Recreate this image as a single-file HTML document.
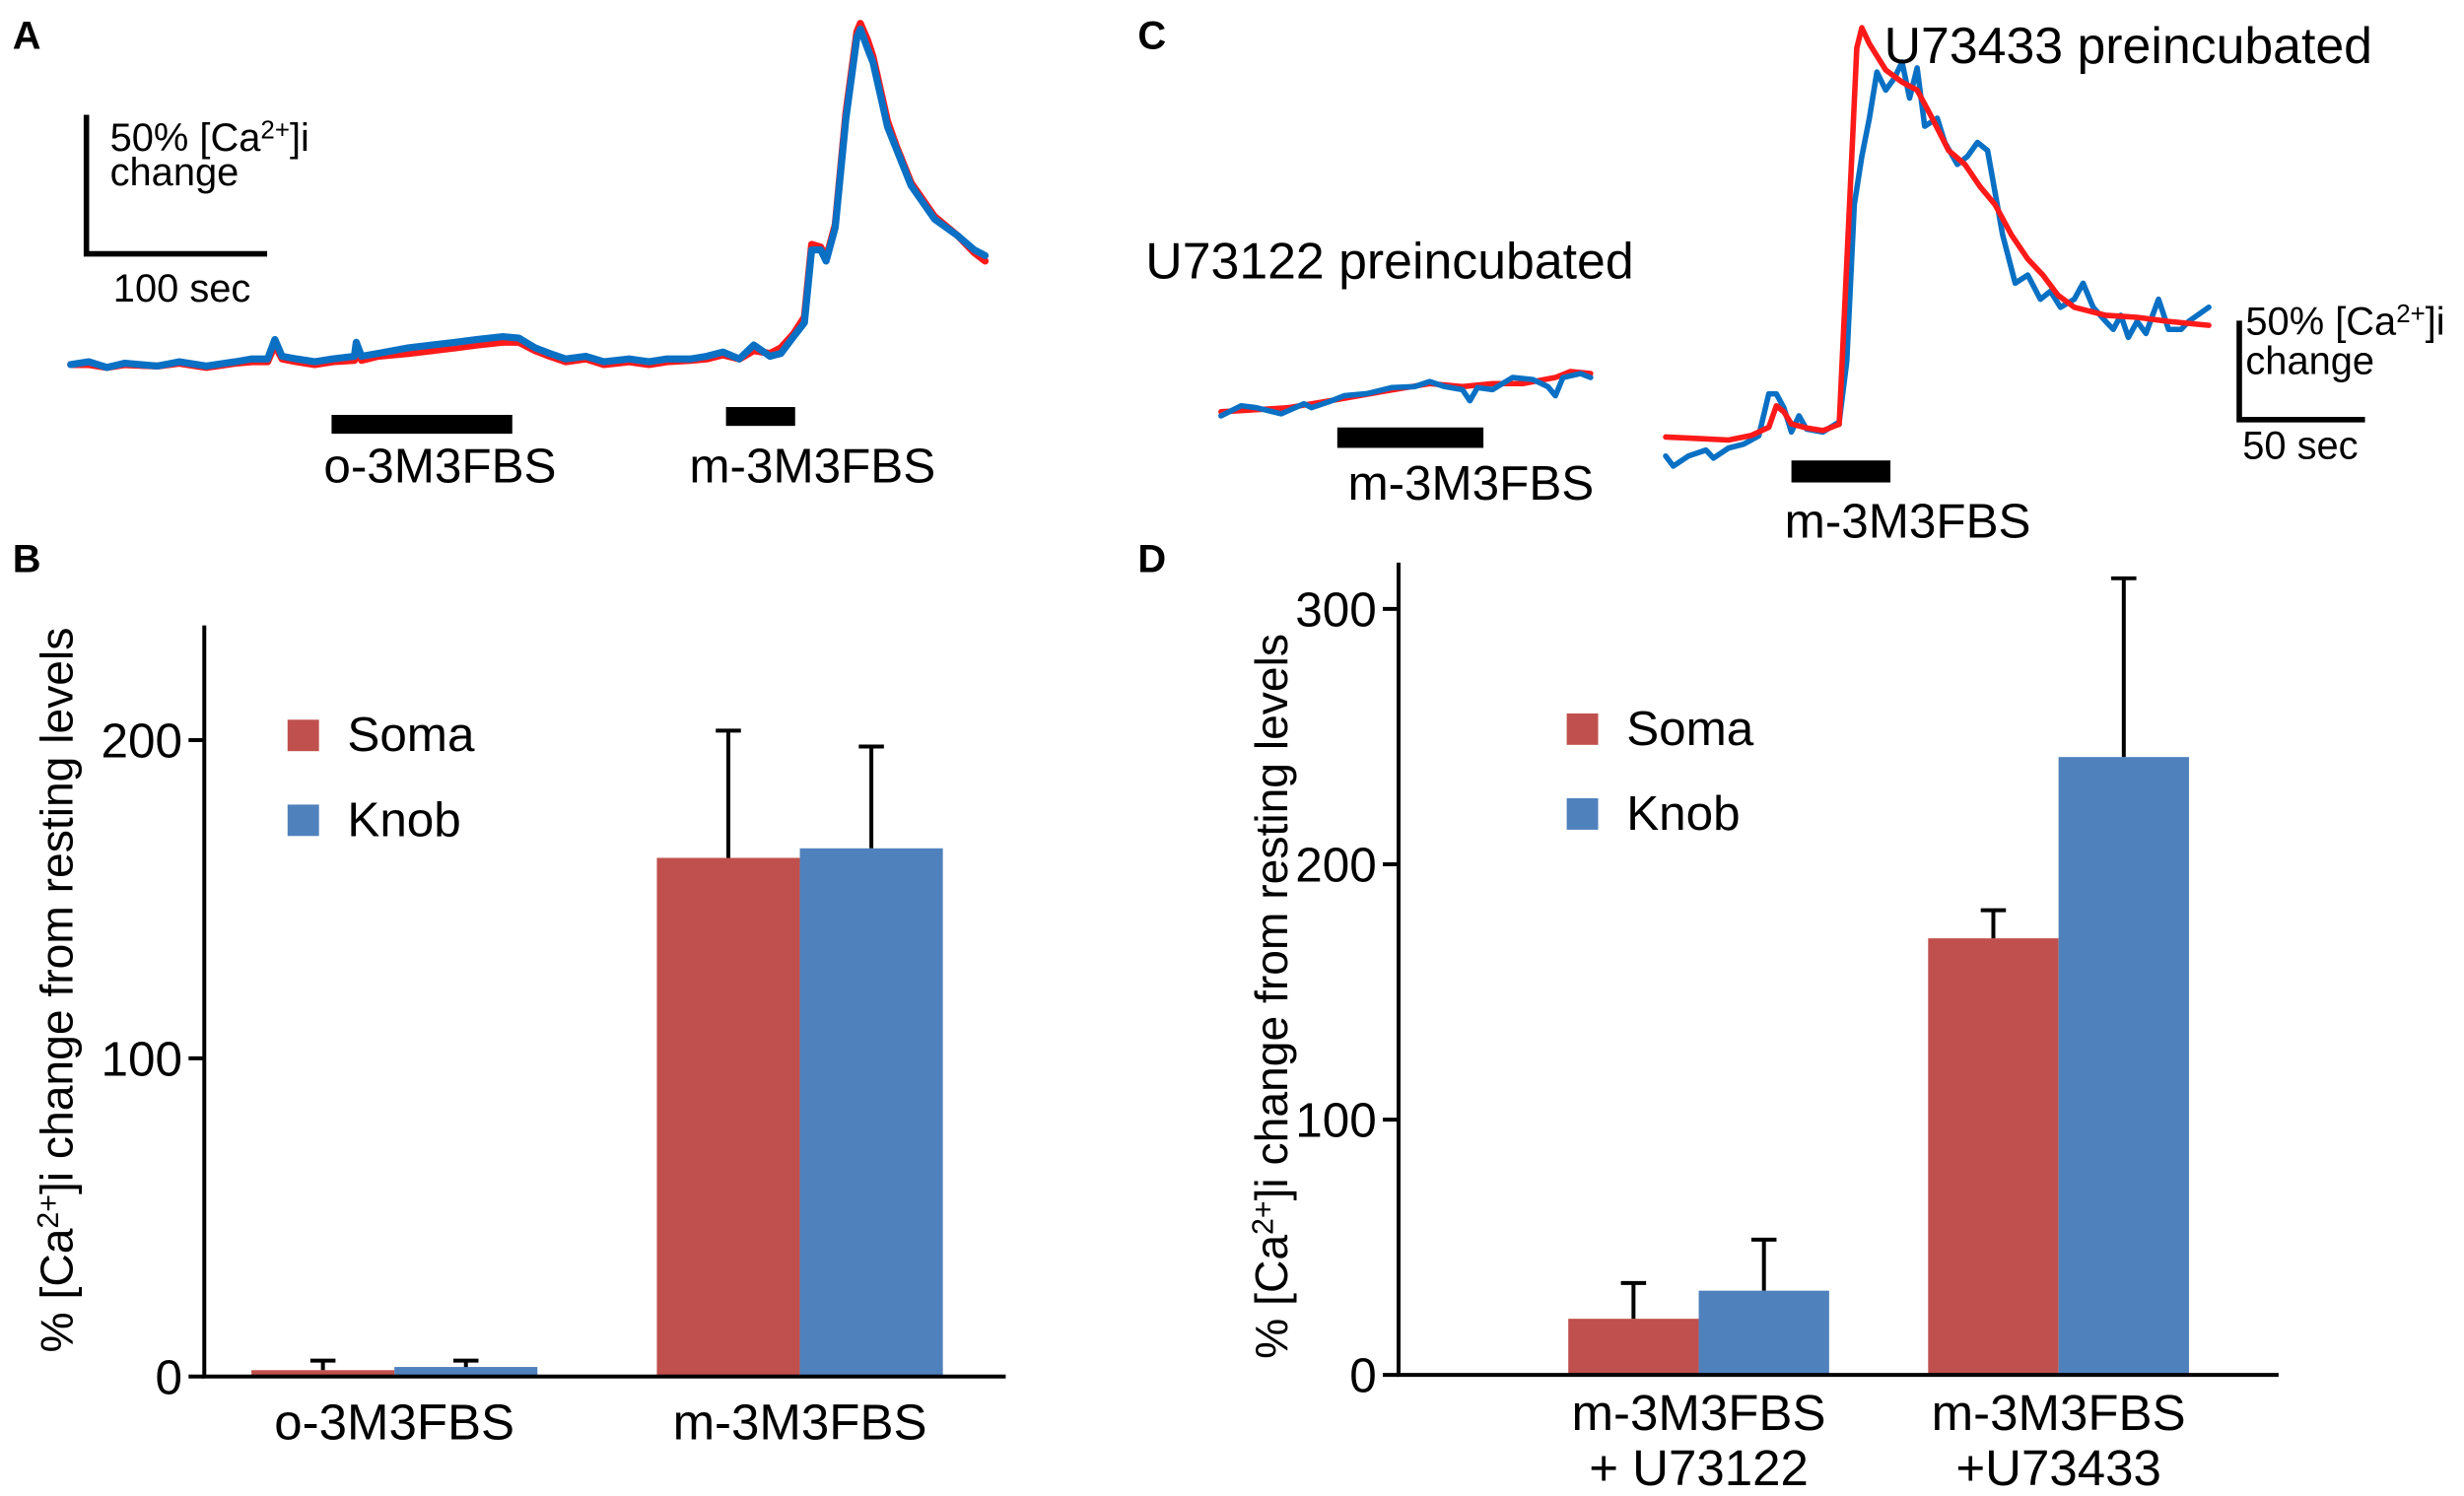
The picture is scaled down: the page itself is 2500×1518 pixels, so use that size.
<!DOCTYPE html>
<html><head><meta charset="utf-8"><style>
html,body{margin:0;padding:0;background:#fff}
svg{display:block}
text{font-family:"Liberation Sans",Arial,sans-serif;fill:#000}
</style></head><body>
<svg id="fig" width="2500" height="1518" viewBox="0 0 1568 952" xmlns="http://www.w3.org/2000/svg">
<rect x="0" y="0" width="1568" height="952" fill="#fff"/>
<g id="g"></g>
</svg>
<script>
// Panel A traces (time s, % change)
const aTime=[0,10,20,30,48,60,75,91,100,109,113,117,125,135,145,157,158,161,170,187,200,213,225,239,248,257,265,274,285,295,309,320,330,343,352,361,370,378,387,393,400,406,410,415,418,423,429,435,437,441,444,452,457,465,478,491,500,506];
const aKnob=[0,1,-1,0.5,-0.5,1,-0.5,1,2,2,9,3,2,1,2,3,8,3,4,6,7,8,9,10,9.5,6,4,2,3,1,2,1,2,2,3,4.5,2,7,3,4,10,15,41,41,37,49,88,117,120,113,108,85,77,64,52,46,41,39];
const aSoma=[0,0,-1,0,-0.5,0.5,-1,0.5,1,1,7,2,1,0,1,1.5,5,1.5,3,4,5,6,7,8,8,5,3,1,2,0,1,0,1,1.5,2,3.5,2,5,4,6,11,17,43,42,38,50,90,119,122,116,110,87,78,65,53,46,40,37];
// Panel C left (U73122)
const cLTimeK=[0,8,14,24,33,36,43,49,58,68,77,83,89,96,99,102,108,116,124,130,133,136,143,147];
const cLKnob=[-2,3,2,-1,4,2,5,8,9,12,12.5,15,12.5,11,5.5,12,11,17,16,12.5,8,17,19,17];
const cLTimeS=[0,14,27,46,64,83,96,108,120,133,139,147];
const cLSoma=[0,1,2,6,10,14,12.5,14,14,17,20,19];
// Panel C right (U73433)
const cRTimeS=[0,12.5,25,34,41,44,47,50,56,62.5,69,74,76,78,81,87.5,94,100,106,112.5,119,125,131,137.5,144,150,156,162.5,175,187.5,200,216];
const cRSoma=[1.5,0.8,0,2.3,6.3,17,14,8,6,4.7,7.8,141,195,205,197,184,178,174,160,144,137,126,117,102,90,82,72,66,62,61,59,57];
const cRTimeK=[0,3,9,16,19,25,31,37,41,44,47,50,53,56,62.5,69,72,75,78,81,84,87.5,91,94,97,100,103,108,111,116,120,124,128,134,139,144,149,153,157,162.5,166,170,175,178,181,184,187.5,191,196,200,205,208,216];
const cRKnob=[-8,-13,-8,-5,-9,-4,-2,2,23,23,16,4,12,5.5,4,9,39,117,141,160,183,174,180,188,170,185,156,160,148,137,141,148,144,102,78,82,70,74,66,70,78,66,59,55,62,51,59,53,70,55,55,59,66];
// Panel B bars
const bCats=["o-3M3FBS","m-3M3FBS"];
const bSoma=[2,163];
const bKnob=[3,166];
const bSomaErr=[3,40];
const bKnobErr=[2,32];
const bTicks=[0,100,200];
// Panel D bars
const dCats=[["m-3M3FBS","+ U73122"],["m-3M3FBS","+U73433"]];
const dSoma=[22,171];
const dKnob=[33,242];
const dSomaErr=[14,11];
const dKnobErr=[20,70];
const dTicks=[0,100,200,300];

const NS="http://www.w3.org/2000/svg";
const G=document.getElementById('g');
function mk(tag,attrs,parent){const e=document.createElementNS(NS,tag);for(const k in attrs)e.setAttribute(k,attrs[k]);(parent||G).appendChild(e);return e;}
function txt(x,y,s,size,anchor,parent,weight){const t=mk('text',{x:x,y:y,'font-size':size,'text-anchor':anchor||'start'},parent);if(weight)t.setAttribute('font-weight',weight);t.textContent=s;return t;}
function caText(x,y,size,parent){const t=mk('text',{x:x,y:y,'font-size':size},parent);
 t.innerHTML='50% [Ca<tspan dy="-8" font-size="'+(size*0.65)+'">2+</tspan><tspan dy="8">]i</tspan>';return t;}
function trace(times,vals,xf,yf,color,w){let d='';for(let i=0;i<times.length;i++){d+=(i?'L':'M')+xf(times[i]).toFixed(1)+','+yf(vals[i]).toFixed(1);}
 return mk('path',{d:d,fill:'none',stroke:color,'stroke-width':w,'stroke-linejoin':'round','stroke-linecap':'round'});}

const RED='#ff1a1a',BLUE='#0a70c4',SOMA='#c0504d',KNOB='#4f81bd';

let l;
l=txt(8,31,'A',25,'start',G,'bold');
l=txt(8,364,'B',25,'start',G,'bold');
l=txt(724,31,'C',25,'start',G,'bold');
l=txt(724,364,'D',25,'start',G,'bold');

// ===== Panel A =====
const axA=t=>45+t*1.15, ayA=v=>232-v*1.78;
let p=trace(aTime,aSoma,axA,ayA,RED,4.5);
p=trace(aTime,aKnob,axA,ayA,BLUE,4.5);
p=mk('path',{d:'M55,73V161.5H170',fill:'none',stroke:'#000','stroke-width':3.5});
l=caText(70,96,25);
l=txt(70,118,'change',25);
l=txt(72,192,'100 sec',25);
p=mk('rect',{x:211,y:264,width:115,height:12,fill:'#000'});
p=mk('rect',{x:462,y:259,width:44,height:12,fill:'#000'});
l=txt(280,307,'o-3M3FBS',31,'middle');
l=txt(517,307,'m-3M3FBS',31,'middle');

// ===== Panel C =====
const cxL=t=>777+t*1.6, cyL=v=>262-v*1.28;
p=trace(cLTimeS,cLSoma,cxL,cyL,RED,3.5);
p=trace(cLTimeK,cLKnob,cxL,cyL,BLUE,3.5);
const cxR=t=>1060+t*1.6, cyR=v=>280-v*1.28;
p=trace(cRTimeK,cRKnob,cxR,cyR,BLUE,3.5);
p=trace(cRTimeS,cRSoma,cxR,cyR,RED,3.5);
l=txt(729,177,'U73122 preincubated',32.5);
l=txt(1199,40,'U73433 preincubated',32.5);
p=mk('rect',{x:851,y:272,width:93,height:13,fill:'#000'});
p=mk('rect',{x:1140,y:293,width:63,height:14,fill:'#000'});
l=txt(936,318,'m-3M3FBS',31,'middle');
l=txt(1214,342,'m-3M3FBS',31,'middle');
p=mk('path',{d:'M1425,204V267H1505',fill:'none',stroke:'#000','stroke-width':3.5});
l=caText(1429,213,25);
l=txt(1429,238,'change',25);
l=txt(1427,292,'50 sec',25);

// ===== Bar chart helper =====
function barChart(o){
 const gg=mk('g',{});
 const y=v=>o.y0-v*o.k;
 for(let i=0;i<o.soma.length;i++){
  const x0=o.gx[i];
  let r=mk('rect',{x:x0,y:y(o.soma[i]),width:o.bw,height:o.soma[i]*o.k,fill:SOMA},gg);
  
  r=mk('rect',{x:x0+o.bw,y:y(o.knob[i]),width:o.bw,height:o.knob[i]*o.k,fill:KNOB},gg);
  
  const cx1=x0+o.bw/2,cx2=x0+o.bw*1.5;
  r=mk('path',{d:'M'+cx1+','+y(o.soma[i])+'V'+y(o.soma[i]+o.somaErr[i])+'M'+(cx1-8)+','+y(o.soma[i]+o.somaErr[i])+'H'+(cx1+8),stroke:'#000','stroke-width':2.5,fill:'none'},gg);
  
  r=mk('path',{d:'M'+cx2+','+y(o.knob[i])+'V'+y(o.knob[i]+o.knobErr[i])+'M'+(cx2-8)+','+y(o.knob[i]+o.knobErr[i])+'H'+(cx2+8),stroke:'#000','stroke-width':2.5,fill:'none'},gg);
  
  const labs=Array.isArray(o.cats[i])?o.cats[i]:[o.cats[i]];
  labs.forEach((s,j)=>{const t=txt(x0+o.bw,o.labY+j*35,s,32,'middle',gg);
   });
 }
 let a=mk('path',{d:'M'+o.ax+','+o.top+'V'+o.y0+'H'+o.xEnd,stroke:'#000','stroke-width':2.5,fill:'none'},gg);
 
 o.ticks.forEach(v=>{
  let t=mk('line',{x1:o.ax-10,x2:o.ax,y1:y(v),y2:y(v),stroke:'#000','stroke-width':2.5},gg);
  
  t=txt(o.ax-14,y(v)+11,String(v),31,'end',gg);
  
 });
 const yt=mk('text',{x:0,y:0,'font-size':29,'text-anchor':'middle',transform:'translate('+o.titleX+','+o.titleY+') rotate(-90)'},gg);
 yt.innerHTML='% [Ca<tspan dy="-9" font-size="19">2+</tspan><tspan dy="9">]i change from resting levels</tspan>';
 
 let s=mk('rect',{x:o.legX,y:o.legY,width:20,height:20,fill:SOMA},gg);
 s=txt(o.legX+38,o.legY+20,'Soma',31,'start',gg);
 s=mk('rect',{x:o.legX,y:o.legY+54,width:20,height:20,fill:KNOB},gg);
 s=txt(o.legX+38,o.legY+74,'Knob',31,'start',gg);
}
barChart({name:'chart-b',soma:bSoma,knob:bKnob,somaErr:bSomaErr,knobErr:bKnobErr,cats:bCats,ticks:bTicks,
 gx:[160,418],bw:91,y0:876,k:2.025,ax:130,top:398,xEnd:640,labY:916,titleX:46,titleY:630,legX:183,legY:458});
barChart({name:'chart-d',soma:dSoma,knob:dKnob,somaErr:dSomaErr,knobErr:dKnobErr,cats:dCats,ticks:dTicks,
 gx:[998,1227],bw:83,y0:875,k:1.625,ax:890,top:358,xEnd:1450,labY:910,titleX:819,titleY:634,legX:997,legY:454});
</script>
</body></html>
